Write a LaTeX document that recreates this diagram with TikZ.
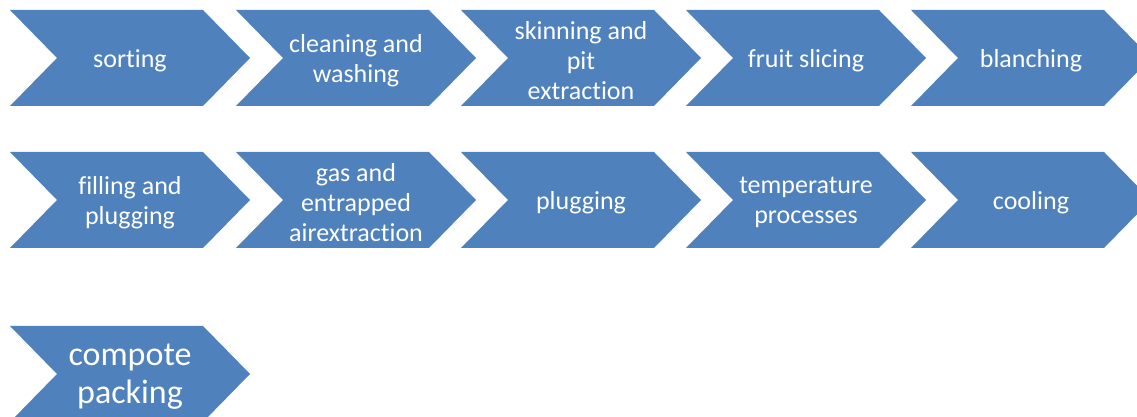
\documentclass[tikz,border=0pt]{standalone}
\usepackage{fontspec}
\setmainfont[Ligatures=NoCommon]{Carlito}
\definecolor{chevblue}{HTML}{4F81BD}
\tikzset{
  chevfill/.style={fill=chevblue},
  chevtext/.style={text=white, align=center, inner sep=0pt, font=\fontsize{26}{30}\selectfont},
  bigtext/.style={text=white, align=center, inner sep=0pt, font=\fontsize{34}{38}\selectfont}
}
\newcommand\chev[5]{%
  \fill[chevfill] (#1,#2) -- ++(193,0) -- ++(47,-48) -- ++(-47,-48) -- ++(-193,0) -- ++(47,48) -- cycle;
  \node[#5] (#3) at (#1+120,#2-50.5) {#4};
}
\begin{document}
\begin{tikzpicture}[x=1pt,y=1pt]
\useasboundingbox (0,0) rectangle (1137,417);
\clip (0,0) rectangle (1137,417);
% row 1
\chev{10}{407}{sorting}{sorting}{chevtext}
\chev{236}{407}{cleaning}{cleaning and\\washing}{chevtext}
\chev{461}{407}{skinning}{skinning and\\pit\\extraction}{chevtext}
\chev{686}{407}{slicing}{fruit slicing}{chevtext}
\chev{911}{407}{blanching}{blanching}{chevtext}
% row 2
\chev{10}{265}{filling}{filling and\\plugging}{chevtext}
\chev{236}{265}{gas}{gas and\\entrapped\\airextraction}{chevtext}
\chev{461}{265}{plugging}{plugging}{chevtext}
\chev{686}{265}{temperature}{temperature\\processes}{chevtext}
\chev{911}{265}{cooling}{cooling}{chevtext}
% row 3
\chev{10}{91}{compote}{compote\\packing}{bigtext}
\end{tikzpicture}
\end{document}
